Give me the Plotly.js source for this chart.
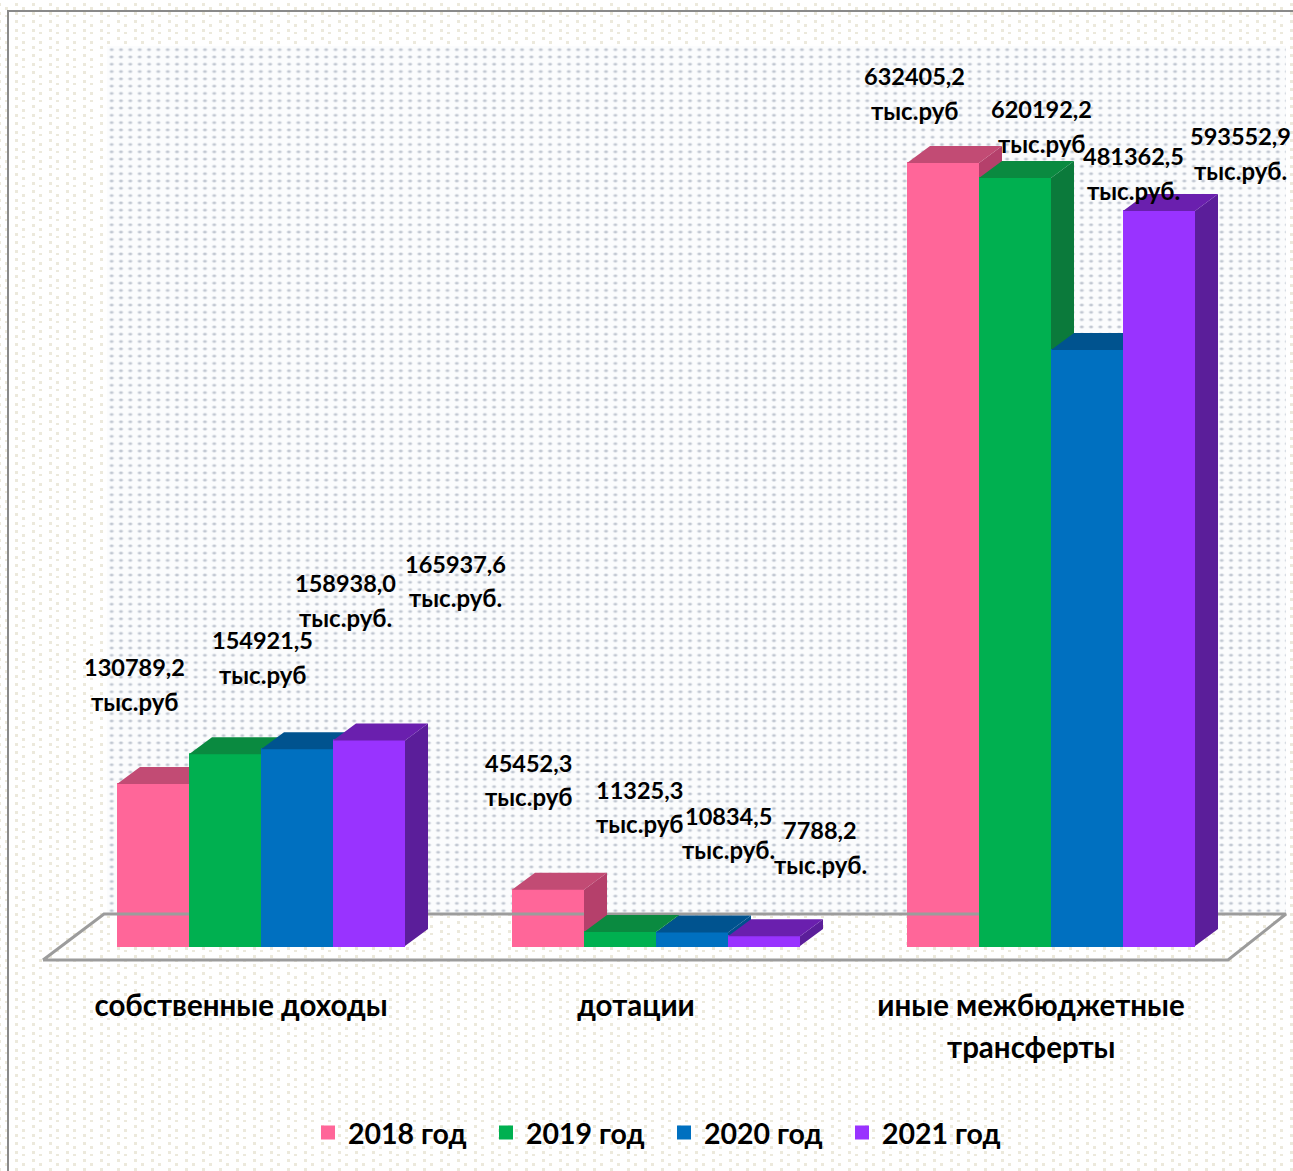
<!DOCTYPE html>
<html lang="ru">
<head>
<meta charset="utf-8">
<script src="https://cdn.plot.ly/plotly-3.0.1.min.js"></script>
<style>
html,body{margin:0;padding:0;width:1293px;height:1171px;overflow:hidden;background:#fff}
#bg{position:absolute;left:0;top:0;width:1293px;height:1171px;
background-image:url("data:image/svg+xml,%3Csvg xmlns='http://www.w3.org/2000/svg' width='17' height='17'%3E%3Cg fill='%23ece9dc'%3E%3Crect x='0' y='0' width='3' height='3'/%3E%3Crect x='0' y='8' width='3' height='3'/%3E%3Crect x='7' y='3' width='3' height='2'/%3E%3Crect x='7' y='12' width='3' height='3'/%3E%3C/g%3E%3C/svg%3E");
background-position:15px 12px}
#frame{position:absolute;left:7px;top:10px;width:1290px;height:1170px;border-left:2px solid #8a8a8a;border-top:2px solid #8a8a8a;box-sizing:border-box}
#wall{position:absolute;left:107px;top:46px;width:1179px;height:868px;background-color:#fbfcfd;
background-image:radial-gradient(ellipse 2.8px 1.9px at center,#adb4c0 0,#d3d8e0 55%,rgba(255,255,255,0) 100%);
background-size:9.33px 7.3px}
#chart{position:absolute;left:0;top:0;width:1293px;height:1171px}
</style>
</head>
<body>
<div id="bg"></div><div id="frame"></div><div id="wall"></div><div id="chart"></div>
<script>
// ---- data ----
const categories = ["собственные доходы", "дотации", "иные межбюджетные"];
const categoryContinuation = ["", "", "трансферты"];
const seriesNames = ["2018 год", "2019 год", "2020 год", "2021 год"];
const values2018 = [130789.2, 45452.3, 632405.2];
const values2019 = [154921.5, 11325.3, 620192.2];
const values2020 = [158938.0, 10834.5, 481362.5];
const values2021 = [165937.6, 7788.2, 593552.9];
const units2018 = ["тыс.руб", "тыс.руб", "тыс.руб"];
const units2019 = ["тыс.руб", "тыс.руб", "тыс.руб"];
const units2020 = ["тыс.руб.", "тыс.руб.", "тыс.руб."];
const units2021 = ["тыс.руб.", "тыс.руб.", "тыс.руб."];

// ---- layout and styling ----
const seriesValues = [values2018, values2019, values2020, values2021];
const seriesUnits = [units2018, units2019, units2020, units2021];
const frontColors = ["#FF6699", "#00B050", "#0070C0", "#9933FF"];
const sideColors = ["#B5406B", "#0B7A3B", "#00508E", "#5B1E9A"];
const topColors = ["#C24B74", "#0A8A40", "#00538F", "#6A1FAE"];
const FONT = 'Lato, "Noto Sans", sans-serif';

const W = 1293, H = 1171;
const plotL = 40, plotR = 1291, plotT = 4, plotB = 964;
const zeroPx = 946, unitPx = 395, firstCenterPx = 261;
const yScale = 783 / 632405.2;           // pixels per value unit
const barW = 72 / unitPx, strokeW = 2 / unitPx;
const depthX = 23 / unitPx, depthY = 17 / yScale;
const catLabelShift = -20 / unitPx;
const xOfPx = p => (p - firstCenterPx) / unitPx;
const yOfPx = p => (zeroPx - p) / yScale;
const barX = (cat, s) => cat + (s - 1.5) * barW;

// label placement relative to bar top centre: [right px, up px]
const labelShift = [
  [[-19, 100], [-20, 110], [-29, 70]],
  [[37, 97], [19, 125], [26, 52]],
  [[48, 149], [36, 100], [46, 177]],
  [[86, 160], [56, 89], [81, 58]]
];

const traces = [];
// floor
traces.push({
  type: "scatter", mode: "lines", xaxis: "x", yaxis: "y", showlegend: false, hoverinfo: "skip",
  x: [43, 1228, 1286, 104, 43].map(xOfPx),
  y: [960, 960, 914, 914, 960].map(yOfPx),
  line: { color: "#9c9c9c", width: 3 }
});

const annotations = [];
const layoutExtra = {};
const numberFont = { family: FONT, size: 23.5, color: "#000", weight: 700 };
const unitFont = { family: FONT, size: 24, color: "#000", weight: 700 };
seriesValues.forEach((vals, s) => {
  const sfx = s === 0 ? "" : String(s + 1);
  const xa = "x" + sfx, ya = "y" + sfx;
  if (s > 0) {
    layoutExtra["xaxis" + sfx] = { overlaying: "x", matches: "x", visible: false, anchor: ya };
    layoutExtra["yaxis" + sfx] = { overlaying: "y", matches: "y", visible: false, anchor: xa };
  }
  const xs = vals.map((_, c) => barX(c, s));
  traces.push({
    type: "bar", name: seriesNames[s], x: xs, y: vals, width: barW - strokeW, xaxis: xa, yaxis: ya,
    marker: { color: frontColors[s], line: { width: 2, color: frontColors[s] } }, hoverinfo: "y"
  });
  const sx = [], sy = [], tx = [], ty = [];
  vals.forEach((v, c) => {
    const l = xs[c] - barW / 2, r = xs[c] + barW / 2;
    sx.push(r, r + depthX, r + depthX, r, r, null);
    sy.push(0, depthY, v + depthY, v, 0, null);
    tx.push(l, l + depthX, r + depthX, r, l, null);
    ty.push(v, v + depthY, v + depthY, v, v, null);
    const [dx, up] = labelShift[s][c];
    [[v.toFixed(1).replace(".", ","), 17, numberFont], [seriesUnits[s][c], -17, unitFont]].forEach(([text, off, font]) => {
      annotations.push({
        xref: "x", yref: "y", x: xs[c], y: v, xshift: dx, yshift: up + off,
        showarrow: false, xanchor: "center", yanchor: "middle", text: text, font: font
      });
    });
  });
  [[sx, sy, sideColors[s]], [tx, ty, topColors[s]]].forEach(([fx, fy, col]) => {
    traces.push({
      type: "scatter", mode: "lines", x: fx, y: fy, xaxis: xa, yaxis: ya,
      fill: "toself", fillcolor: col, line: { width: 0, color: col },
      showlegend: false, hoverinfo: "skip"
    });
  });
});

categoryContinuation.forEach((t, c) => {
  if (!t) return;
  annotations.push({
    xref: "x", yref: "paper", x: c + catLabelShift, y: (plotB - 1046) / (plotB - plotT),
    showarrow: false, xanchor: "center", yanchor: "middle", text: t,
    font: { family: FONT, size: 29.5, color: "#000", weight: 700 }
  });
});

const layout = Object.assign({
  width: W, height: H,
  margin: { l: plotL, r: W - plotR, t: plotT, b: H - plotB, pad: 0 },
  paper_bgcolor: "rgba(0,0,0,0)", plot_bgcolor: "rgba(0,0,0,0)",
  barmode: "overlay",
  showlegend: true,
  legend: {
    orientation: "h", xref: "paper", yref: "paper", x: (308 - plotL) / (plotR - plotL),
    y: (plotB - 1133) / (plotB - plotT), xanchor: "left", yanchor: "middle",
    entrywidth: 133, entrywidthmode: "pixels", bgcolor: "rgba(0,0,0,0)", traceorder: "normal",
    font: { family: FONT, size: 28.5, color: "#000", weight: 700 }
  },
  xaxis: {
    range: [xOfPx(plotL), xOfPx(plotR)], tickmode: "array", tickvals: [0, 1, 2].map(c => c + catLabelShift),
    ticktext: categories,
    showgrid: false, zeroline: false, showline: false, ticks: "outside", ticklen: 16,
    tickcolor: "rgba(0,0,0,0)", tickfont: { family: FONT, size: 29.5, color: "#000", weight: 700 }
  },
  yaxis: {
    range: [yOfPx(plotB), yOfPx(plotT)], showgrid: false, zeroline: false, showline: false,
    showticklabels: false, ticks: ""
  },
  annotations: annotations
}, layoutExtra);

Plotly.newPlot("chart", traces, layout, { displayModeBar: false, responsive: false });
</script>
</body>
</html>
